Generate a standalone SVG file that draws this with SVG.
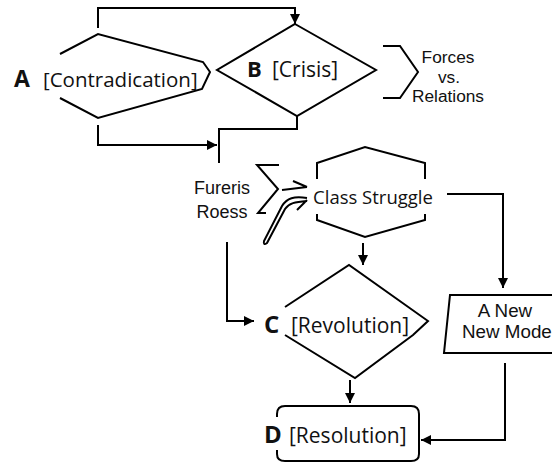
<svg xmlns="http://www.w3.org/2000/svg" width="552" height="463" viewBox="0 0 552 463">
<defs>
<style>
.s{fill:none;stroke:#000;stroke-width:2;stroke-linejoin:miter}
.t{font-family:"Open Sans","Noto Sans","DejaVu Sans",sans-serif;fill:#111}
.l{font-family:"Liberation Sans",Arial,sans-serif;fill:#111}
.b{font-weight:bold}
</style>
<marker id="ah" viewBox="0 0 10 10" refX="10" refY="5" markerWidth="5" markerHeight="5" markerUnits="strokeWidth" orient="auto">
<path d="M0,0 L10,5 L0,10 z" fill="#000"/>
</marker>
</defs>
<rect width="552" height="463" fill="#fff"/>
<g id="connectors">
<polyline class="s" points="98,28 98,8 295,8 295,24" marker-end="url(#ah)"/>
<polyline class="s" points="98,125 98,145 217,145" marker-end="url(#ah)"/>
<polyline class="s" points="297,116 297,129 219,129 219,163"/>
<polyline class="s" points="227,242 227,321 254,321" marker-end="url(#ah)"/>
<polyline class="s" points="363,243 363,265" marker-end="url(#ah)"/>
<polyline class="s" points="447,194 503,194 503,288" marker-end="url(#ah)"/>
<polyline class="s" points="350,380 350,403" marker-end="url(#ah)"/>
<polyline class="s" points="505,363 505,440 421,440" marker-end="url(#ah)"/>
</g>
<g id="nodeA">
<polyline class="s" points="60,54 98,34 203,62 210,72 202,89 98,118 60,98"/>
<text class="t b" x="14" y="87" font-size="23">A</text>
<text class="t" x="43" y="87" font-size="20.5">[Contradication]</text>
</g>
<g id="nodeB">
<polygon class="s" points="295,24 376,70 297,116 217,70"/>
<text class="t b" x="247" y="77" font-size="22">B</text>
<text class="t" x="272" y="77" font-size="21">[Crisis]</text>
</g>
<g id="forces">
<polyline class="s" points="383,46 400,46 418,72 400,98 383,98"/>
<text class="l" x="448" y="62.5" font-size="17.3" text-anchor="middle">Forces</text>
<text class="l" x="449" y="82.5" font-size="17.3" text-anchor="middle">vs.</text>
<text class="l" x="448" y="102" font-size="17.3" text-anchor="middle">Relations</text>
</g>
<g id="fureris">
<text class="l" x="222" y="194" font-size="18" text-anchor="middle">Fureris</text>
<text class="l" x="222" y="218" font-size="18" text-anchor="middle">Roess</text>
<polyline class="s" points="279,165 257,165 278,189 258,213 266,213"/>
<path class="s" d="M282,190 L307,187 M293,181 L307,187"/>
<path class="s" stroke-width="1.6" d="M307,198 C294,196 287,198 282,206 L264,241 Q263,246 267,243 L285,209 C289,203 295,202 307,201 M297,210 L307,200"/>
</g>
<g id="nodeClass">
<polyline class="s" points="317,179 317,163 365,147 425,163 425,179"/>
<polyline class="s" points="317,214 317,220 365,237 425,220 425,214"/>
<text class="t" x="373" y="204" font-size="18.5" text-anchor="middle">Class Struggle</text>
</g>
<g id="nodeC">
<polyline class="s" points="285,307 349,265 428,321 413,335 355,378 285,335"/>
<text class="t b" x="264" y="333" font-size="24">C</text>
<text class="t" x="291" y="333" font-size="21">[Revolution]</text>
</g>
<g id="nodeMode">
<polyline class="s" points="560,295 450,295 444,353 560,353"/>
<text class="l" x="505" y="316.5" font-size="18.8" text-anchor="middle">A New</text>
<text class="l" x="462" y="338" font-size="18.8">New Mode</text>
</g>
<g id="nodeD">
<path class="s" d="M277,417 L277,414 Q277,406 285,406 L411,406 Q419,406 419,414 L419,454 Q419,461 411,461 L285,461 Q277,461 277,454 L277,450"/>
<text class="t b" x="264" y="443" font-size="24">D</text>
<text class="t" x="289" y="443" font-size="21">[Resolution]</text>
</g>
</svg>
